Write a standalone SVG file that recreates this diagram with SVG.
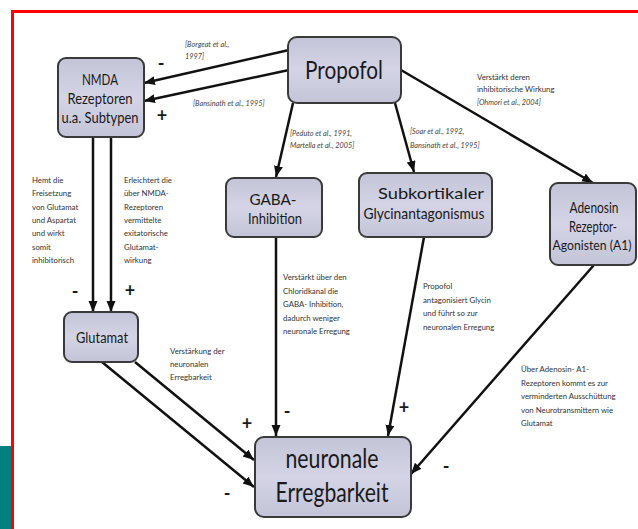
<svg xmlns="http://www.w3.org/2000/svg" width="638" height="529" viewBox="0 0 638 529">
<defs>
<marker id="ah" markerUnits="userSpaceOnUse" markerWidth="12" markerHeight="10" refX="11" refY="4.5" orient="auto">
<path d="M0,0 L11,4.5 L0,9 z" fill="#111"/>
</marker>
<linearGradient id="g" x1="0" y1="0" x2="0" y2="1">
<stop offset="0" stop-color="#c4c4d8"/>
<stop offset="0.5" stop-color="#d4d4e6"/>
<stop offset="1" stop-color="#c4c4d8"/>
</linearGradient>
</defs>
<style>
.box{fill:url(#g);stroke:#3a3a3a;stroke-width:2}
.t{font-family:Lato,"Liberation Sans",sans-serif;fill:#1a1a1a;text-anchor:middle}
.s{font-family:Lato,"Liberation Sans",sans-serif;fill:#333;font-size:7.8px}
.c{font-family:Lato,"Liberation Sans",sans-serif;fill:#444;font-size:7.3px;font-style:italic}
.sg{font-family:Lato,"Liberation Sans",sans-serif;fill:#1a1a1a;font-size:18px;font-weight:bold;text-anchor:middle}
.ln{stroke:#111;stroke-width:2.5;fill:none;marker-end:url(#ah)}
</style>
<rect width="638" height="529" fill="#fff"/>
<rect x="0" y="446" width="11" height="83" fill="#008080"/>
<path d="M12.5,529 L12.5,11.5 L638,11.5" fill="none" stroke="#ff0000" stroke-width="3"/>

<g id="connectors">
<line class="ln" x1="289" y1="50" x2="144" y2="83"/>
<line class="ln" x1="289" y1="70" x2="144" y2="101"/>
<line class="ln" x1="293" y1="103" x2="276" y2="177"/>
<line class="ln" x1="395" y1="103" x2="414" y2="172"/>
<line class="ln" x1="401" y1="70" x2="593" y2="183"/>
<line class="ln" x1="93" y1="137" x2="93" y2="312"/>
<line class="ln" x1="111" y1="137" x2="111" y2="312"/>
<line class="ln" x1="276" y1="237" x2="276" y2="436"/>
<line class="ln" x1="424" y1="237" x2="388" y2="436"/>
<line class="ln" x1="594" y1="265" x2="411" y2="474"/>
<line class="ln" x1="135" y1="362" x2="254" y2="460"/>
<line class="ln" x1="102" y1="362" x2="254" y2="487"/>
</g>

<g id="labels">
<text class="sg" x="161" y="70">-</text>
<text class="sg" x="162" y="122">+</text>
<text class="sg" x="75" y="298">-</text>
<text class="sg" x="130" y="297">+</text>
<text class="sg" x="287" y="418">-</text>
<text class="sg" x="404" y="414">+</text>
<text class="sg" x="446" y="473">-</text>
<text class="sg" x="247" y="430">+</text>
<text class="sg" x="227" y="500">-</text>
<text class="c" x="185" y="47">[Borgeat et al.,</text>
<text class="c" x="185" y="59">1997]</text>
<text class="c" x="193" y="106">[Bansinath et al., 1995]</text>
<text class="c" x="290" y="136">[Peduto et al., 1991,</text>
<text class="c" x="290" y="148">Martella et al., 2005]</text>
<text class="c" x="410" y="134">[Soar et al., 1992,</text>
<text class="c" x="410" y="148">Bansinath et al., 1995]</text>
<text class="s" x="477" y="80">Verstärkt deren</text>
<text class="s" x="477" y="92">inhibitorische Wirkung</text>
<text class="c" x="477" y="105">[Ohmori et al., 2004]</text>
<text class="s" x="32" y="183"><tspan x="32">Hemt die</tspan><tspan x="32" dy="13.3">Freisetzung</tspan><tspan x="32" dy="13.3">von Glutamat</tspan><tspan x="32" dy="13.3">und Aspartat</tspan><tspan x="32" dy="13.3">und wirkt</tspan><tspan x="32" dy="13.3">somit</tspan><tspan x="32" dy="13.3">inhibitorisch</tspan></text>
<text class="s" x="124" y="183"><tspan x="124">Erleichtert die</tspan><tspan x="124" dy="13.3">über NMDA-</tspan><tspan x="124" dy="13.3">Rezeptoren</tspan><tspan x="124" dy="13.3">vermittelte</tspan><tspan x="124" dy="13.3">exitatorische</tspan><tspan x="124" dy="13.3">Glutamat-</tspan><tspan x="124" dy="13.3">wirkung</tspan></text>
<text class="s" x="283" y="280"><tspan x="283">Verstärkt über den</tspan><tspan x="283" dy="13.5">Chloridkanal die</tspan><tspan x="283" dy="13.5">GABA- Inhibition,</tspan><tspan x="283" dy="13.5">dadurch weniger</tspan><tspan x="283" dy="13.5">neuronale Erregung</tspan></text>
<text class="s" x="423" y="289"><tspan x="423">Propofol</tspan><tspan x="423" dy="13.5">antagonisiert Glycin</tspan><tspan x="423" dy="13.5">und führt so zur</tspan><tspan x="423" dy="13.5">neuronalen Erregung</tspan></text>
<text class="s" x="170" y="354"><tspan x="170">Verstärkung der</tspan><tspan x="170" dy="13">neuronalen</tspan><tspan x="170" dy="13">Erregbarkeit</tspan></text>
<text class="s" x="521" y="372"><tspan x="521">Über Adenosin- A1-</tspan><tspan x="521" dy="13.5">Rezeptoren kommt es zur</tspan><tspan x="521" dy="13.5">verminderten Ausschüttung</tspan><tspan x="521" dy="13.5">von Neurotransmittern wie</tspan><tspan x="521" dy="13.5">Glutamat</tspan></text>
</g>

<g id="propofol">
<rect class="box" x="288" y="37" width="113" height="66" rx="9"/>
<text class="t" x="344" y="79" font-size="25" textLength="78" lengthAdjust="spacingAndGlyphs">Propofol</text>
</g>
<g id="nmda">
<rect class="box" x="58" y="58" width="86" height="79" rx="8"/>
<text class="t" x="100" y="85" font-size="15" textLength="36" lengthAdjust="spacingAndGlyphs">NMDA</text>
<text class="t" x="100" y="104" font-size="15" textLength="65" lengthAdjust="spacingAndGlyphs">Rezeptoren</text>
<text class="t" x="100" y="123" font-size="15" textLength="77" lengthAdjust="spacingAndGlyphs">u.a. Subtypen</text>
</g>
<g id="gaba">
<rect class="box" x="226" y="178" width="96" height="59" rx="8"/>
<text class="t" x="273" y="205" font-size="16" textLength="47" lengthAdjust="spacingAndGlyphs">GABA-</text>
<text class="t" x="275" y="224" font-size="16" textLength="54" lengthAdjust="spacingAndGlyphs">Inhibition</text>
</g>
<g id="glycin">
<rect class="box" x="359" y="173" width="133" height="64" rx="8"/>
<text class="t" x="431" y="199" font-size="16" textLength="106" lengthAdjust="spacingAndGlyphs">Subkortikaler</text>
<text class="t" x="424" y="219" font-size="16" textLength="121" lengthAdjust="spacingAndGlyphs">Glycinantagonismus</text>
</g>
<g id="adenosin">
<rect class="box" x="550" y="183" width="86" height="82" rx="8"/>
<text class="t" x="594" y="213" font-size="15" textLength="49" lengthAdjust="spacingAndGlyphs">Adenosin</text>
<text class="t" x="593" y="232" font-size="15" textLength="48" lengthAdjust="spacingAndGlyphs">Rezeptor-</text>
<text class="t" x="592" y="250" font-size="13" textLength="79" lengthAdjust="spacingAndGlyphs">Agonisten (A1)</text>
</g>
<g id="glutamat">
<rect class="box" x="64" y="312" width="74" height="50" rx="8"/>
<text class="t" x="102" y="343" font-size="15" textLength="52" lengthAdjust="spacingAndGlyphs">Glutamat</text>
</g>
<g id="erregbarkeit">
<rect class="box" x="255" y="437" width="156" height="80" rx="9"/>
<text class="t" x="332" y="468" font-size="26" textLength="93" lengthAdjust="spacingAndGlyphs">neuronale</text>
<text class="t" x="332" y="502" font-size="26" textLength="113" lengthAdjust="spacingAndGlyphs">Erregbarkeit</text>
</g>
</svg>
